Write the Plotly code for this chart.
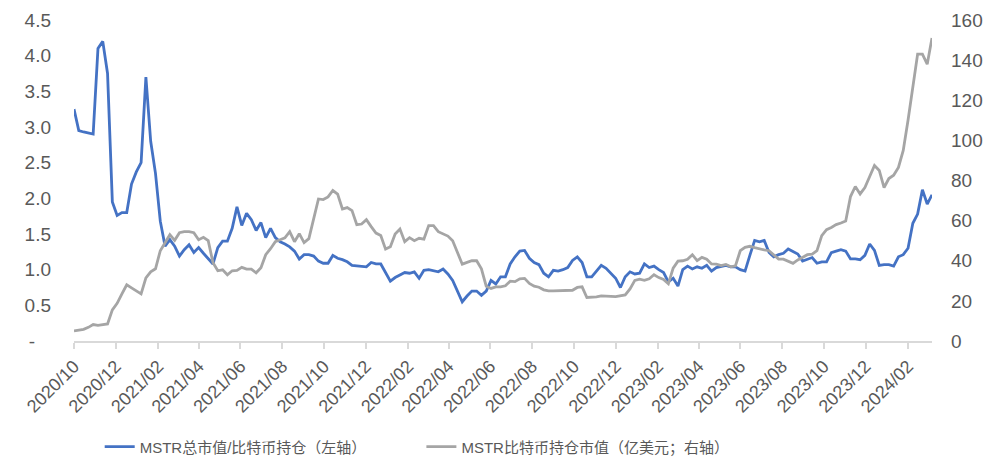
import pandas as pd
import plotly.graph_objects as go

start_date = "2020-10-01"

ratio_left = [
    3.25, 2.95, 2.93, 2.92, 2.90, 4.10, 4.20, 3.75, 1.95, 1.76,
    1.80, 1.80, 2.20, 2.37, 2.50, 3.70, 2.80, 2.35, 1.68, 1.33,
    1.42, 1.33, 1.19, 1.28, 1.35, 1.24, 1.31, 1.23, 1.16, 1.08,
    1.31, 1.40, 1.40, 1.58, 1.88, 1.62, 1.79, 1.70, 1.55, 1.66,
    1.45, 1.58, 1.45, 1.39, 1.36, 1.32, 1.26, 1.15, 1.21, 1.21,
    1.19, 1.12, 1.09, 1.09, 1.20, 1.16, 1.14, 1.11, 1.06, 1.05,
    1.05, 1.04, 1.10, 1.08, 1.08, 0.95, 0.84, 0.89, 0.93, 0.96,
    0.95, 0.97, 0.88, 0.99, 1.00, 0.98, 0.97, 1.01, 0.94, 0.85,
    0.70, 0.55, 0.63, 0.70, 0.70, 0.64, 0.70, 0.85, 0.80, 0.90,
    0.90, 1.08, 1.18, 1.26, 1.27, 1.16, 1.10, 1.07, 0.95, 0.90,
    0.99, 0.98, 1.00, 1.03, 1.13, 1.18, 1.10, 0.90, 0.90, 0.98,
    1.06, 1.02, 0.95, 0.88, 0.75, 0.90, 0.97, 0.94, 0.95, 1.08,
    1.03, 1.05, 1.00, 0.96, 0.83, 0.88, 0.77, 1.00, 1.05, 1.01,
    1.04, 1.02, 1.06, 0.98, 1.03, 1.04, 1.06, 1.04, 1.04, 1.00,
    0.98, 1.20, 1.41, 1.39, 1.41, 1.24, 1.18, 1.21, 1.23, 1.29,
    1.26, 1.22, 1.12, 1.14, 1.17, 1.09, 1.11, 1.11, 1.24, 1.26,
    1.28, 1.26, 1.15, 1.15, 1.14, 1.20, 1.36, 1.27, 1.06, 1.07,
    1.07, 1.05, 1.18, 1.21, 1.30, 1.65, 1.78, 2.12, 1.92, 2.05,
]

btc_value_right = [
    5.0, 5.3, 5.8, 6.8, 8.2, 7.8, 8.3, 8.5, 15.5, 18.8,
    23.5, 28.0, 26.5, 24.8, 23.5, 31.5, 34.5, 36.0, 45.0, 49.0,
    53.0, 50.2, 54.0, 54.5, 54.5, 54.0, 50.5, 51.7, 50.0, 39.0,
    35.0, 35.5, 33.0, 35.0, 35.2, 36.7, 35.8, 35.8, 34.0, 36.5,
    43.0, 46.0, 49.5, 50.5, 51.4, 54.5, 49.5, 53.5, 49.0, 51.0,
    61.0, 70.8, 70.5, 71.8, 75.0, 73.2, 65.8, 66.5, 65.0, 58.0,
    58.3, 60.5, 57.0, 53.8, 52.6, 45.8, 47.0, 53.3, 55.8, 49.5,
    51.5, 50.0, 51.2, 50.8, 57.5, 57.5, 54.5, 53.3, 52.3, 50.0,
    44.5, 38.3, 39.2, 40.0, 40.0, 36.0, 27.3, 26.2, 27.0, 27.0,
    27.5, 29.8, 29.6, 31.0, 31.2, 28.7, 27.3, 26.8, 25.5, 25.0,
    25.0, 25.0, 25.0, 25.1, 25.3, 26.7, 27.0, 21.7, 21.7, 22.0,
    22.5, 22.5, 22.2, 22.1, 22.4, 23.0, 26.0, 30.2, 30.8, 30.2,
    31.0, 33.0, 31.6, 30.7, 28.5, 36.3, 39.8, 40.0, 40.7, 43.0,
    40.1, 41.7, 40.8, 38.4, 38.3, 37.6, 38.2, 37.0, 37.5, 45.0,
    46.7, 47.2, 46.5, 45.8, 45.4, 45.0, 43.0, 40.8, 40.8, 39.6,
    38.7, 40.4, 41.6, 43.0, 43.3, 45.0, 52.5, 55.5, 56.6, 58.0,
    58.8, 59.8, 72.0, 77.0, 73.3, 76.5, 82.0, 87.5, 85.0, 76.5,
    81.0, 82.6, 86.5, 95.0, 110.0, 126.0, 143.0, 143.0, 138.0, 151.0,
]

dates = pd.date_range(start_date, periods=len(ratio_left), freq="7D")

x_tick_dates = pd.date_range("2020-10-01", "2024-02-01", freq="2MS")
x_tick_text = [d.strftime("%Y/%m") for d in x_tick_dates]

left_ticks = [0, 0.5, 1.0, 1.5, 2.0, 2.5, 3.0, 3.5, 4.0, 4.5]
left_tick_text = ["-\u00a0\u00a0\u00a0"] + [f"{v:.1f}" for v in left_ticks[1:]]
right_ticks = [0, 20, 40, 60, 80, 100, 120, 140, 160]

name_left = "MSTR总市值/比特币持仓（左轴）"
name_right = "MSTR比特币持仓市值（亿美元；右轴）"

BLUE = "#4472C4"
GRAY = "#A5A5A5"
TXT = "#595959"
FONT = "Liberation Sans, Arial, Noto Sans CJK SC, sans-serif"

fig = go.Figure()
fig.add_trace(go.Scatter(
    x=dates, y=ratio_left, name=name_left + "\u00a0" * 12, mode="lines",
    line=dict(color=BLUE, width=2.8), yaxis="y",
))
fig.add_trace(go.Scatter(
    x=dates, y=btc_value_right, name=name_right, mode="lines",
    line=dict(color=GRAY, width=2.8), yaxis="y2",
))

fig.update_layout(
    width=994, height=465,
    margin=dict(l=74, r=62, t=20, b=124, autoexpand=False),
    paper_bgcolor="white", plot_bgcolor="white",
    font=dict(family=FONT, size=16, color=TXT),
    showlegend=True,
    legend=dict(
        orientation="h", x=0.40, xanchor="center", y=-0.33, yanchor="middle",
        font=dict(size=15, color=TXT, family=FONT),
        itemwidth=30, tracegroupgap=0,
    ),
    xaxis=dict(
        type="date", automargin=False,
        range=[dates[0], dates[-1]],
        tickvals=list(x_tick_dates), ticktext=x_tick_text,
        tickangle=-45,
        showgrid=False, zeroline=False,
        showline=True, linecolor="#D9D9D9", linewidth=1.5,
        ticks="outside", ticklen=6, tickcolor="#D9D9D9", tickwidth=1.5,
        tickfont=dict(size=18, color=TXT),
    ),
    yaxis=dict(
        range=[0, 4.5], tickvals=left_ticks, ticktext=left_tick_text,
        showgrid=False, zeroline=False, showline=False, automargin=False,
        tickfont=dict(size=19, color=TXT), ticklabelstandoff=22,
    ),
    yaxis2=dict(
        range=[0, 160], tickvals=right_ticks,
        overlaying="y", side="right", automargin=False,
        showgrid=False, zeroline=False, showline=False,
        tickfont=dict(size=19, color=TXT), ticklabelstandoff=18,
    ),
)

fig.write_html("out.html")
